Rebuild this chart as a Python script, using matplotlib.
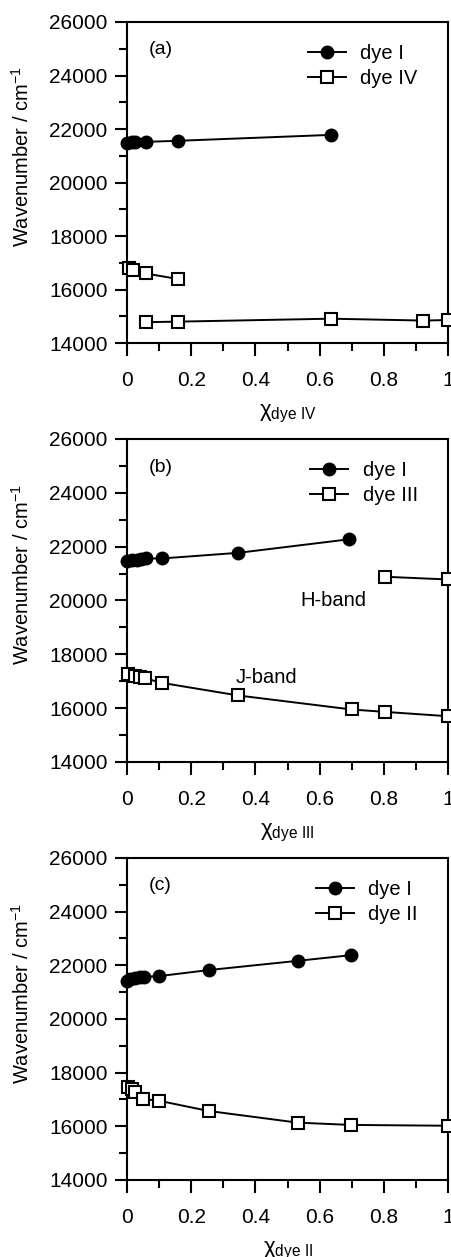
import numpy as np
import matplotlib
matplotlib.use("Agg")
import matplotlib.pyplot as plt
from matplotlib.ticker import MultipleLocator, FuncFormatter

plt.rcParams['font.family'] = ['Liberation Sans', 'DejaVu Sans']
plt.rcParams['mathtext.fontset'] = 'custom'
plt.rcParams['mathtext.rm'] = 'Liberation Sans'
plt.rcParams['mathtext.it'] = 'Liberation Sans'

# panel (a): dye I / dye IV
xa_dye1 = [0.0, 0.015, 0.025, 0.058, 0.16, 0.635]
ya_dye1 = [21480, 21500, 21510, 21520, 21560, 21780]
xa_dye4_hi = [0.005, 0.02, 0.058, 0.16]
ya_dye4_hi = [16820, 16740, 16600, 16390]
xa_dye4_lo = [0.058, 0.16, 0.635, 0.923, 1.0]
ya_dye4_lo = [14780, 14800, 14910, 14840, 14860]

# panel (b): dye I / dye III
xb_dye1 = [0.0, 0.015, 0.03, 0.045, 0.058, 0.108, 0.347, 0.69]
yb_dye1 = [21450, 21500, 21510, 21530, 21560, 21560, 21770, 22270]
xb_dye3_j = [0.004, 0.025, 0.04, 0.056, 0.108, 0.347, 0.70, 0.805, 1.0]
yb_dye3_j = [17260, 17190, 17140, 17110, 16940, 16470, 15950, 15860, 15700]
xb_dye3_h = [0.805, 1.0]
yb_dye3_h = [20880, 20780]

# panel (c): dye I / dye II
xc_dye1 = [0.0, 0.01, 0.025, 0.04, 0.053, 0.1, 0.254, 0.532, 0.697]
yc_dye1 = [21420, 21470, 21510, 21545, 21570, 21595, 21820, 22165, 22375]
xc_dye2 = [0.004, 0.015, 0.025, 0.051, 0.1, 0.254, 0.532, 0.697, 1.0]
yc_dye2 = [17450, 17375, 17260, 17015, 16950, 16570, 16135, 16050, 16020]

panels = [
    ('(a)', 'dye IV', [(xa_dye1, ya_dye1)], [(xa_dye4_hi, ya_dye4_hi), (xa_dye4_lo, ya_dye4_lo)],
     r'$\chi_{\mathrm{dye\ IV}}$'),
    ('(b)', 'dye III', [(xb_dye1, yb_dye1)], [(xb_dye3_j, yb_dye3_j), (xb_dye3_h, yb_dye3_h)],
     r'$\chi_{\mathrm{dye\ III}}$'),
    ('(c)', 'dye II', [(xc_dye1, yc_dye1)], [(xc_dye2, yc_dye2)],
     r'$\chi_{\mathrm{dye\ II}}$'),
]

fig = plt.figure(figsize=(4.51, 12.57), dpi=100)
boxes = [[0.2816, 0.7271, 0.7118, 0.2554],
         [0.2816, 0.3938, 0.7118, 0.2570],
         [0.2816, 0.0613, 0.7118, 0.2562]]

for box, (tag, name2, s1, s2, xlab) in zip(boxes, panels):
    ax = fig.add_axes(box)
    h1 = h2 = None
    for x, y in s1:
        h1, = ax.plot(x, y, '-o', color='black', lw=1.4, ms=9, clip_on=False, zorder=3)
    for x, y in s2:
        h2, = ax.plot(x, y, '-s', color='black', lw=1.4, ms=9, mfc='white',
                      mec='black', mew=1.5, clip_on=False, zorder=3)
    ax.set_xlim(0, 1)
    ax.set_ylim(14000, 26000)
    ax.xaxis.set_major_locator(MultipleLocator(0.2))
    ax.xaxis.set_minor_locator(MultipleLocator(0.1))
    ax.yaxis.set_major_locator(MultipleLocator(2000))
    ax.yaxis.set_minor_locator(MultipleLocator(1000))
    ax.xaxis.set_major_formatter(FuncFormatter(lambda v, p: '%g' % round(v, 2)))
    ax.tick_params(which='both', direction='out', width=1.5, labelsize=15)
    ax.tick_params(which='major', length=9)
    ax.tick_params(which='minor', length=6)
    ax.tick_params(axis='x', pad=11)
    ax.tick_params(axis='y', pad=5)
    for sp in ax.spines.values():
        sp.set_linewidth(1.5)
    ax.set_ylabel(r'Wavenumber / cm$^{\mathrm{-1}}$', fontsize=14.5)
    ax.yaxis.set_label_coords(-0.293, 0.58)
    ax.set_xlabel(xlab, fontsize=16)
    ax.xaxis.set_label_coords(0.5, -0.185)
    ax.text(0.067, 0.913, tag, transform=ax.transAxes, fontsize=14, va='center', ha='left')
    ax.legend([h1, h2], ['dye I', name2], loc='upper right', frameon=False, fontsize=14.5,
              handlelength=1.9, handletextpad=0.7, labelspacing=0.3,
              bbox_to_anchor=(0.962, 0.987))
    if tag == '(b)':
        ax.text(0.643, 20010, 'H-band', transform=ax.get_yaxis_transform(), fontsize=14.5,
                ha='center', va='center')
        ax.text(0.435, 17140, 'J-band', transform=ax.get_yaxis_transform(), fontsize=14.5,
                ha='center', va='center')

fig.savefig('out.png', dpi=100)
